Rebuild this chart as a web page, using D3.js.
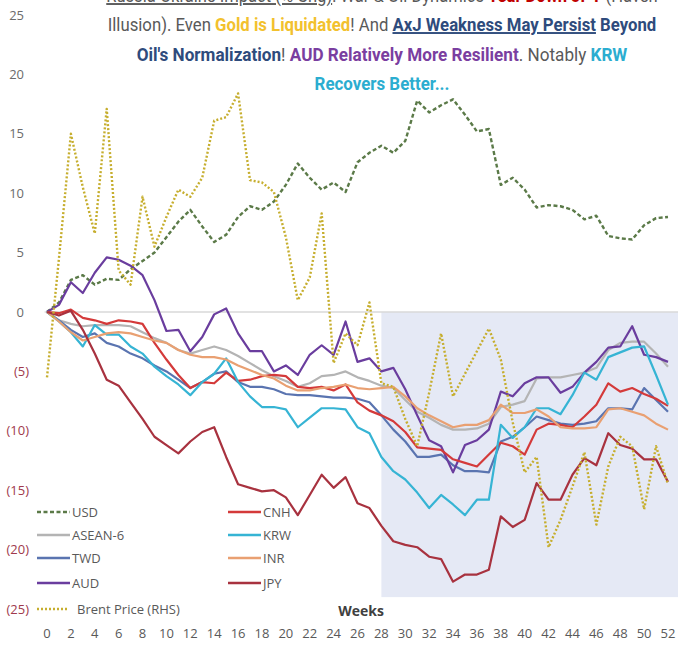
<!DOCTYPE html>
<html>
<head>
<meta charset="utf-8">
<script src="https://cdn.jsdelivr.net/npm/d3@7"></script>
<style>
  body { margin: 0; background: #fff; }
  svg { display: block; }
</style>
</head>
<body>
<div id="chart"></div>
<script>
// weekly % change since start of the war
const weeks = d3.range(0, 53);
const usd = [0, 0.8, 2.7, 3.1, 2.3, 2.8, 2.7, 3.6, 4.3, 5.0, 6.3, 7.6, 8.6, 7.2, 5.9, 6.5, 8.0, 8.9, 8.6, 9.3, 10.7, 12.5, 11.3, 10.3, 10.9, 10.1, 12.6, 13.4, 14.0, 13.4, 14.4, 17.8, 16.8, 17.4, 17.9, 16.6, 15.2, 15.4, 10.7, 11.3, 10.3, 8.8, 9.0, 8.9, 8.6, 7.8, 8.1, 6.4, 6.2, 6.1, 7.3, 7.9, 8.0];
const asean6 = [0, -0.7, -1.0, -1.2, -1.1, -1.1, -1.1, -1.2, -1.7, -2.2, -2.6, -3.2, -3.5, -3.2, -2.9, -3.2, -3.7, -4.3, -4.9, -5.4, -5.8, -6.3, -6.0, -5.4, -5.3, -5.0, -5.5, -5.8, -6.2, -6.4, -7.4, -8.4, -8.9, -9.5, -9.9, -9.9, -9.8, -9.4, -8.0, -7.8, -7.5, -5.6, -5.5, -5.5, -5.3, -5.1, -4.7, -3.2, -2.6, -2.5, -2.5, -3.5, -4.6];
const twd = [0, -0.7, -1.5, -2.1, -1.8, -2.6, -2.9, -3.5, -3.9, -4.5, -5.0, -5.7, -6.4, -5.9, -5.2, -5.0, -5.9, -6.3, -6.3, -6.5, -6.9, -7.0, -7.0, -7.1, -7.2, -7.2, -7.3, -7.6, -8.7, -9.9, -10.9, -12.2, -12.2, -12.0, -12.9, -13.4, -13.4, -13.5, -10.9, -10.5, -9.7, -8.8, -9.1, -9.4, -9.5, -9.4, -9.2, -8.1, -8.1, -8.2, -6.4, -7.4, -8.4];
const aud = [0, 0.6, 2.5, 1.6, 3.3, 4.6, 4.4, 3.9, 3.1, 1.0, -1.6, -1.5, -3.3, -2.1, -0.2, 0.3, -1.8, -3.3, -3.3, -5.0, -4.5, -5.3, -3.6, -2.8, -3.6, -0.8, -4.2, -3.9, -5.0, -4.7, -6.5, -8.7, -10.8, -11.3, -13.5, -11.2, -10.8, -9.9, -6.7, -7.1, -6.0, -5.5, -5.5, -6.8, -6.3, -5.1, -4.2, -3.0, -2.9, -1.2, -3.6, -3.8, -4.2];
const cnh = [0, -0.1, 0.2, -0.5, -0.7, -1.0, -0.7, -0.8, -1.0, -2.6, -4.0, -5.3, -6.4, -5.9, -6.0, -5.1, -5.8, -5.7, -5.4, -5.3, -5.4, -6.3, -6.4, -6.3, -6.6, -6.1, -7.6, -8.3, -8.7, -9.2, -10.1, -11.4, -11.5, -11.6, -12.4, -12.7, -13.0, -12.0, -11.0, -11.3, -12.0, -9.9, -9.4, -9.5, -9.7, -8.8, -7.8, -6.0, -6.7, -6.4, -6.9, -7.3, -7.9];
const krw = [0, -0.8, -1.7, -2.9, -1.1, -1.9, -1.9, -2.9, -3.5, -4.6, -5.4, -6.1, -7.0, -5.9, -5.2, -3.9, -5.9, -7.1, -8.0, -8.0, -8.2, -9.7, -8.9, -8.1, -8.1, -8.2, -9.7, -10.2, -12.2, -13.4, -14.1, -15.2, -16.5, -15.4, -16.2, -17.1, -15.8, -15.8, -9.5, -10.6, -9.7, -8.1, -8.1, -8.6, -7.0, -5.1, -5.7, -3.8, -3.4, -3.0, -2.9, -5.3, -7.8];
const inr = [0, -0.8, -1.7, -2.4, -2.1, -1.8, -1.7, -1.8, -2.1, -2.4, -2.6, -3.2, -3.6, -3.8, -3.8, -4.0, -4.5, -4.9, -5.3, -5.6, -6.2, -6.6, -6.6, -6.4, -6.3, -6.1, -6.4, -6.5, -6.4, -6.3, -7.1, -8.1, -8.7, -9.2, -9.7, -9.5, -9.5, -9.1, -7.8, -8.5, -8.5, -8.2, -8.8, -9.7, -9.8, -9.8, -9.7, -8.2, -8.1, -8.4, -8.7, -9.4, -9.9];
const jpy = [0, -0.3, 0.1, -1.5, -3.5, -5.7, -6.2, -7.6, -9.0, -10.5, -11.2, -11.9, -10.9, -10.1, -9.7, -12.2, -14.5, -14.8, -15.1, -15.0, -15.6, -17.1, -15.4, -13.7, -14.8, -13.9, -16.1, -16.5, -18.0, -19.3, -19.6, -19.8, -20.6, -20.8, -22.7, -22.1, -22.1, -21.7, -17.2, -18.1, -17.5, -14.4, -15.8, -15.8, -13.7, -12.3, -12.9, -10.2, -11.2, -11.5, -12.4, -12.4, -14.3];
// brent sits on a right axis that is cropped off; values in left-axis units
const brent = [-5.5, 4.5, 15.0, 10.5, 6.6, 17.1, 3.5, 2.3, 9.7, 5.5, 8.0, 10.3, 9.7, 11.3, 16.1, 16.4, 18.4, 11.1, 10.9, 10.1, 6.3, 1.0, 2.9, 8.3, -4.3, -1.8, -2.8, 0.8, -6.0, -6.3, -9.0, -11.3, -6.8, -1.8, -7.1, -5.2, -3.3, -1.4, -4.0, -9.3, -13.5, -12.2, -19.8, -17.5, -14.7, -11.8, -17.9, -13.0, -10.5, -11.3, -16.6, -11.3, -14.5];

const yTicks = [25, 20, 15, 10, 5, 0, -5, -10, -15, -20, -25];
const xTicks = d3.range(0, 53, 2);
const shadeWeeks = [28, 53];
const shadeRange = [0, -24];

const series = [
  { name: "USD", values: usd, color: "#5b7a48", dash: "4,2.5", legend: [0, 0] },
  { name: "ASEAN-6", values: asean6, color: "#b4b4b4", dash: null, legend: [0, 1] },
  { name: "TWD", values: twd, color: "#5a74b0", dash: null, legend: [0, 2] },
  { name: "AUD", values: aud, color: "#6a3d9e", dash: null, legend: [0, 3] },
  { name: "CNH", values: cnh, color: "#d43a3a", dash: null, legend: [1, 0] },
  { name: "KRW", values: krw, color: "#36b4d4", dash: null, legend: [1, 1] },
  { name: "INR", values: inr, color: "#e9a072", dash: null, legend: [1, 2] },
  { name: "JPY", values: jpy, color: "#a8323f", dash: null, legend: [1, 3] },
  { name: "Brent Price (RHS)", values: brent, color: "#c6ae2e", dash: "2,2", legend: [0, 4] }
];

const W = 678, H = 645;
const svg = d3.select("#chart").append("svg")
  .attr("width", W).attr("height", H)
  .style("font-family", "'Open Sans', sans-serif");

const x = d3.scaleLinear().domain([0, 52]).range([47, 668]);
const y = d3.scaleLinear().domain([-25, 25]).range([609, 15]);
const yRight = y.copy(); // same mapping as drawn

// shaded recovery window
svg.append("rect")
  .attr("x", x(shadeWeeks[0]))
  .attr("y", y(shadeRange[0]))
  .attr("width", x(shadeWeeks[1]) - x(shadeWeeks[0]))
  .attr("height", y(shadeRange[1]) - y(shadeRange[0]))
  .attr("fill", "#e5e9f5");

// zero line
svg.append("line")
  .attr("x1", x(-0.2)).attr("x2", W)
  .attr("y1", y(0)).attr("y2", y(0))
  .attr("stroke", "#d9d9d9").attr("stroke-width", 1.5);

// y tick labels (accounting style)
svg.append("g").selectAll("text")
  .data(yTicks)
  .join("text")
  .attr("x", d => d < 0 ? 29 : 24)
  .attr("y", d => y(d))
  .attr("dy", "0.35em")
  .attr("text-anchor", "end")
  .attr("font-size", 13)
  .attr("fill", d => d < 0 ? "#a03a4c" : "#6b6b6b")
  .text(d => d < 0 ? `(${-d})` : d);

// x tick labels
svg.append("g").selectAll("text")
  .data(xTicks)
  .join("text")
  .attr("x", d => x(d))
  .attr("y", 633)
  .attr("dy", "0.35em")
  .attr("text-anchor", "middle")
  .attr("font-size", 13)
  .attr("fill", "#595959")
  .text(d => d);

svg.append("text")
  .attr("x", 361).attr("y", 611)
  .attr("dy", "0.35em")
  .attr("text-anchor", "middle")
  .attr("font-size", 14).attr("font-weight", "bold")
  .attr("fill", "#404040")
  .text("Weeks");

// series lines
const line = d3.line().x((d, i) => x(weeks[i]));
series.forEach(s => {
  const sc = s.name.startsWith("Brent") ? yRight : y;
  svg.append("path")
    .datum(s.values)
    .attr("d", line.y(d => sc(d)))
    .attr("fill", "none")
    .attr("stroke", s.color)
    .attr("stroke-width", s.dash ? 2.4 : 2.2)
    .attr("stroke-dasharray", s.dash)
    .attr("stroke-linejoin", "round");
});

// legend
const legCols = [37, 228];
const legRows = [512, 535, 558, 583, 609];
const leg = svg.append("g").selectAll("g")
  .data(series)
  .join("g")
  .attr("transform", d => `translate(${legCols[d.legend[0]]},${legRows[d.legend[1]]})`);
leg.append("line")
  .attr("x1", 0).attr("x2", d => d.name.startsWith("Brent") ? 31 : 33)
  .attr("y1", 0).attr("y2", 0)
  .attr("stroke", d => d.color)
  .attr("stroke-width", d => d.dash ? 2.4 : 2.5)
  .attr("stroke-dasharray", d => d.dash);
leg.append("text")
  .attr("x", d => d.name.startsWith("Brent") ? 40 : 35)
  .attr("dy", "0.35em")
  .attr("font-size", 13)
  .attr("fill", "#595959")
  .text(d => d.name);

// title: natural text, then squeezed horizontally to the reference width
const grey = "#595959", red = "#c00000", gold = "#f2c12e", navy = "#2e4b7c", purple = "#7a3ea0", cyan = "#2badd0";
const titleLines = [
  { yy: 2, len: 552, parts: [
    ["Russia-Ukraine Impact (% Chg)", grey, false, true],
    [": War & Oil Dynamics ", grey, false, false],
    ["Tear Down JPY", red, true, false],
    [" (Haven", grey, false, false]] },
  { yy: 31, len: 549, parts: [
    ["Illusion). Even ", grey, false, false],
    ["Gold is Liquidated", gold, true, false],
    ["! And ", grey, false, false],
    ["AxJ Weakness May Persist", navy, true, true],
    [" Beyond", navy, true, false]] },
  { yy: 61, len: 491, parts: [
    ["Oil's Normalization", navy, true, false],
    ["! ", grey, false, false],
    ["AUD Relatively More Resilient", purple, true, false],
    [". Notably ", grey, false, false],
    ["KRW", cyan, true, false]] },
  { yy: 90, len: 135, parts: [
    ["Recovers Better...", cyan, true, false]] }
];
titleLines.forEach(l => {
  const g = svg.append("g");
  const t = g.append("text")
    .attr("x", 0).attr("y", 0)
    .attr("text-anchor", "middle")
    .attr("font-size", 19)
    .style("font-family", "Roboto, sans-serif");
  l.parts.forEach(p => {
    t.append("tspan")
      .attr("fill", p[1])
      .attr("font-weight", p[2] ? "bold" : "normal")
      .attr("text-decoration", p[3] ? "underline" : null)
      .text(p[0]);
  });
  const sx = l.len / t.node().getComputedTextLength();
  g.attr("transform", `translate(382,${l.yy}) scale(${sx},1)`);
});
</script>
</body>
</html>
